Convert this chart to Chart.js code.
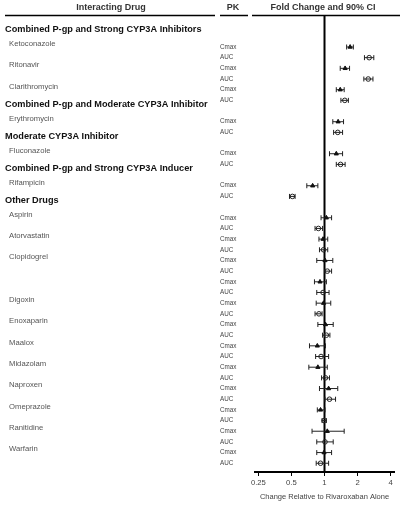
<!DOCTYPE html>
<html>
<head>
<meta charset="utf-8">
<script src="https://cdn.jsdelivr.net/npm/chart.js@4.4.1/dist/chart.umd.min.js"></script>
<style>
  body { margin: 0; background: #fff; }
  canvas { display: block; }
</style>
</head>
<body>
<canvas id="ddi" width="400" height="507"></canvas>
<script>
var groups = [
  "Combined P-gp and Strong CYP3A Inhibitors",
  "Combined P-gp and Moderate CYP3A Inhibitor",
  "Moderate CYP3A Inhibitor",
  "Combined P-gp and Strong CYP3A Inducer",
  "Other Drugs"
];

var drugs = [
  "Ketoconazole", "Ritonavir", "Clarithromycin", "Erythromycin", "Fluconazole",
  "Rifampicin", "Aspirin", "Atorvastatin", "Clopidogrel", "Digoxin",
  "Enoxaparin", "Maalox", "Midazolam", "Naproxen", "Omeprazole",
  "Ranitidine", "Warfarin"
];
var drugGroup = [0, 0, 0, 1, 2, 3, 4, 4, 4, 4, 4, 4, 4, 4, 4, 4, 4];

// one entry per PK row
var rowDrug = [0, 0, 1, 1, 2, 2, 3, 3, 4, 4, 5, 5, 6, 6, 7, 7, 8, 8, 8, 8,
  9, 9, 10, 10, 11, 11, 12, 12, 13, 13, 14, 14, 15, 15, 16, 16];
var pk = [];
rowDrug.forEach(function (d, i) { pk.push(i % 2 === 0 ? "Cmax" : "AUC"); });

var ratio = [1.71, 2.55, 1.54, 2.50, 1.39, 1.53, 1.33, 1.32, 1.28, 1.40,
  0.78, 0.51, 1.04, 0.88, 0.97, 0.98, 1.01, 1.06, 0.91, 0.97,
  0.98, 0.89, 1.02, 1.04, 0.86, 0.93, 0.87, 1.02, 1.09, 1.11,
  0.92, 0.99, 1.06, 1.01, 0.99, 0.92];
var lower = [1.59, 2.31, 1.39, 2.28, 1.28, 1.41, 1.19, 1.21, 1.11, 1.28,
  0.69, 0.48, 0.93, 0.82, 0.89, 0.90, 0.85, 1.01, 0.81, 0.85,
  0.84, 0.82, 0.87, 0.96, 0.73, 0.83, 0.72, 0.94, 0.90, 1.01,
  0.86, 0.95, 0.77, 0.85, 0.85, 0.84];
var upper = [1.83, 2.81, 1.69, 2.76, 1.51, 1.65, 1.49, 1.46, 1.46, 1.54,
  0.87, 0.54, 1.16, 0.96, 1.07, 1.07, 1.19, 1.16, 1.04, 1.10,
  1.14, 0.95, 1.20, 1.12, 1.02, 1.09, 1.06, 1.11, 1.32, 1.26,
  1.01, 1.04, 1.51, 1.20, 1.16, 1.09];

var xTicks = [0.25, 0.5, 1, 2, 4];

// row order on the y axis, one blank row before each new group
var rowSlot = [];
var slot = 0;
rowDrug.forEach(function (d, i) {
  if (i > 0) slot += drugGroup[d] !== drugGroup[rowDrug[i - 1]] ? 2 : 1;
  rowSlot.push(slot);
});

function points(kind) {
  var out = [];
  pk.forEach(function (p, i) {
    if (p === kind) out.push({ x: ratio[i], y: rowSlot[i], lo: lower[i], hi: upper[i] });
  });
  return out;
}

var FONT = "'Liberation Sans', Arial, sans-serif";

var tablePlugin = {
  id: "table",
  beforeDatasetsDraw: function (chart) {
    var c = chart.ctx, xs = chart.scales.x, ys = chart.scales.y, area = chart.chartArea;

    // column headers
    c.save();
    c.fillStyle = "#333";
    c.font = "bold 9px " + FONT;
    c.textAlign = "center";
    c.textBaseline = "middle";
    c.fillText("Interacting Drug", 111, 8);
    c.fillText("PK", 233, 8);
    c.fillText("Fold Change and 90% CI", 323, 8);
    c.strokeStyle = "#000";
    c.lineWidth = 1.5;
    [[5, 215], [220, 248], [252, 400]].forEach(function (seg) {
      c.beginPath();
      c.moveTo(seg[0], 15.5);
      c.lineTo(seg[1], 15.5);
      c.stroke();
    });

    // group headings and drug names
    c.textAlign = "left";
    var seenGroup = {}, seenDrug = {};
    rowDrug.forEach(function (d, i) {
      var g = drugGroup[d];
      if (!seenGroup[g]) {
        seenGroup[g] = true;
        c.fillStyle = "#111";
        c.font = "bold 9.2px " + FONT;
        c.fillText(groups[g], 5, ys.getPixelForValue(rowSlot[i] - 1.6));
      }
      if (!seenDrug[d]) {
        seenDrug[d] = true;
        c.fillStyle = "#555";
        c.font = "7.7px " + FONT;
        c.fillText(drugs[d], 9, ys.getPixelForValue(rowSlot[i] - 0.3));
      }
    });

    // no-effect line
    var x1 = xs.getPixelForValue(1);
    c.strokeStyle = "#000";
    c.lineWidth = 2;
    c.beginPath();
    c.moveTo(x1, 16);
    c.lineTo(x1, area.bottom);
    c.stroke();

    // 90% CI whiskers
    c.strokeStyle = "#222";
    c.lineWidth = 1;
    chart.data.datasets.forEach(function (ds) {
      ds.data.forEach(function (p) {
        var y = ys.getPixelForValue(p.y);
        var a = xs.getPixelForValue(p.lo), b = xs.getPixelForValue(p.hi);
        c.beginPath();
        c.moveTo(a, y); c.lineTo(b, y);
        c.moveTo(a, y - 2.5); c.lineTo(a, y + 2.5);
        c.moveTo(b, y - 2.5); c.lineTo(b, y + 2.5);
        c.stroke();
      });
    });
    c.restore();
  }
};

var chart = new Chart(document.getElementById("ddi"), {
  type: "scatter",
  data: {
    datasets: [{
      label: "Cmax",
      data: points("Cmax"),
      pointStyle: "triangle",
      pointRadius: 2.4,
      backgroundColor: "#111",
      borderColor: "#111",
      borderWidth: 1
    }, {
      label: "AUC",
      data: points("AUC"),
      pointStyle: "circle",
      pointRadius: 2.3,
      backgroundColor: "rgba(0,0,0,0)",
      borderColor: "#222",
      borderWidth: 1
    }]
  },
  options: {
    responsive: false,
    animation: false,
    devicePixelRatio: 1,
    layout: { padding: { left: 220, right: 6, top: 17, bottom: 0 } },
    plugins: { legend: { display: false }, tooltip: { enabled: false } },
    scales: {
      x: {
        type: "logarithmic",
        min: 0.233,
        max: 4.29,
        afterBuildTicks: function (axis) {
          axis.ticks = xTicks.map(function (v) { return { value: v }; });
        },
        afterFit: function (axis) { axis.height = 35; },
        grid: { drawOnChartArea: false, drawTicks: true, tickLength: 4, color: "#000", lineWidth: 1 },
        border: { display: true, color: "#000", width: 2 },
        ticks: {
          color: "#444",
          padding: 2,
          font: { family: FONT, size: 7.7 },
          callback: function (v) { return String(v); }
        },
        title: {
          display: true,
          text: "Change Relative to Rivaroxaban Alone",
          color: "#444",
          font: { family: FONT, size: 7.5 },
          padding: { top: 4, bottom: 6 }
        }
      },
      y: {
        type: "linear",
        reverse: true,
        min: -2.81,
        max: 39.82,
        afterBuildTicks: function (axis) {
          axis.ticks = rowSlot.map(function (v) { return { value: v }; });
        },
        afterFit: function (axis) { axis.width = 35; },
        grid: { display: false },
        border: { display: false },
        ticks: {
          autoSkip: false,
          crossAlign: "far",
          padding: 0,
          color: "#444",
          font: { family: FONT, size: 6.3 },
          callback: function (v) { return pk[rowSlot.indexOf(v)]; }
        }
      }
    }
  },
  plugins: [tablePlugin]
});
</script>
</body>
</html>
